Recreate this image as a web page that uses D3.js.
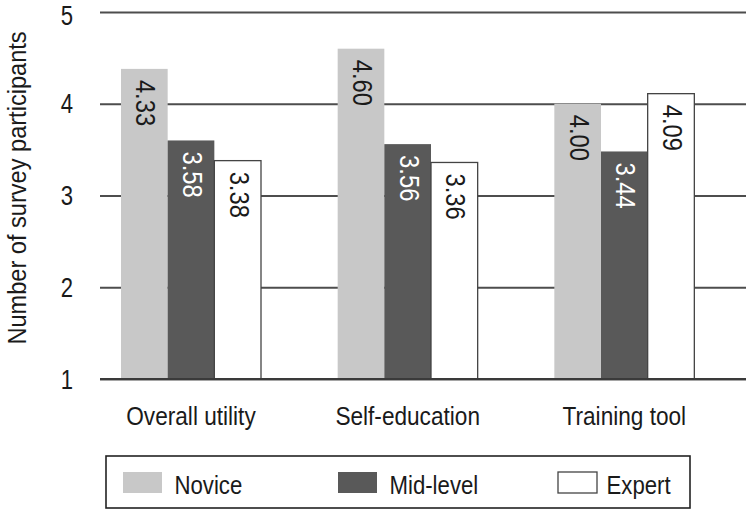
<!DOCTYPE html>
<html><head><meta charset="utf-8">
<script src="https://cdn.jsdelivr.net/npm/d3@7"></script>
<style>
body{margin:0;background:#fff}
svg text{font-family:"Liberation Sans Narrow","Arial Narrow","Liberation Sans",Arial,sans-serif;fill:#1a1a1a}
</style>
</head><body><svg id="c" width="750" height="515"></svg>
<script>
const categories = ["Overall utility", "Self-education", "Training tool"];
const seriesNames = ["Novice", "Mid-level", "Expert"];
// bar heights as drawn in the picture
const novice = [4.38, 4.60, 4.00];
const midLevel = [3.60, 3.56, 3.48];
const expert = [3.38, 3.36, 4.11];
// printed value labels
const noviceLabels = ["4.33", "4.60", "4.00"];
const midLevelLabels = ["3.58", "3.56", "3.44"];
const expertLabels = ["3.38", "3.36", "4.09"];
const yTicks = [1, 2, 3, 4, 5];
const yTickLabels = ["1", "2", "3", "4", "5"];
const yTitle = "Number of survey participants";

const seriesValues = [novice, midLevel, expert];
const seriesLabels = [noviceLabels, midLevelLabels, expertLabels];
const fills = ["#c8c8c8", "#595959", "#ffffff"];
const labelColors = ["#1a1a1a", "#ffffff", "#1a1a1a"];
const FS = 26, SX = 0.87;

const svg = d3.select("#c");
const y = d3.scaleLinear().domain([1, 5]).range([379, 12]);
const x0 = d3.scaleBand().domain(categories).range([100, 750]);
const x1 = d3.scaleBand().domain(seriesNames).range([21, 161]);

// grid lines via axis
const gAxis = svg.append("g").attr("transform", "translate(100,0)")
  .call(d3.axisLeft(y).tickValues(yTicks).tickFormat("").tickSize(-646));
gAxis.select(".domain").remove();
gAxis.selectAll(".tick line").attr("stroke", "#4d4d4d").attr("stroke-width", 1.9);
gAxis.selectAll(".tick text").remove();

// tick labels (condensed)
svg.append("g").selectAll("text").data(yTicks).join("text")
  .attr("transform", (d, i) => `translate(73,${y(d) + (d === 5 ? 13 : 9.5)}) scale(0.82,1)`)
  .attr("text-anchor", "end")
  .attr("font-size", 27)
  .text((d, i) => yTickLabels[i]);

// bars
const rows = [];
categories.forEach((c, ci) => seriesNames.forEach((s, si) => {
  rows.push({c, s, si, v: seriesValues[si][ci], lab: seriesLabels[si][ci]});
}));

svg.append("g").selectAll("rect").data(rows).join("rect")
  .attr("x", d => x0(d.c) + x1(d.s))
  .attr("y", d => y(d.v))
  .attr("width", x1.bandwidth())
  .attr("height", d => y(1) - y(d.v))
  .attr("fill", d => fills[d.si])
  .attr("stroke", d => d.si === 2 ? "#444" : "none")
  .attr("stroke-width", 1.3);

// baseline on top
svg.append("line").attr("x1", 100).attr("x2", 746).attr("y1", y(1)).attr("y2", y(1))
  .attr("stroke", "#3a3a3a").attr("stroke-width", 1.9);

// value labels
svg.append("g").selectAll("text").data(rows).join("text")
  .attr("transform", d => `translate(${x0(d.c) + x1(d.s) + x1.bandwidth() / 2 - 8},${y(d.v) + 11}) rotate(90) scale(0.85,1)`)
  .attr("font-size", 28)
  .style("fill", d => labelColors[d.si])
  .text(d => d.lab);

// category labels
svg.append("g").selectAll("text").data(categories).join("text")
  .attr("transform", c => `translate(${x0(c) + 91},425) scale(${SX},1)`)
  .attr("text-anchor", "middle")
  .attr("font-size", FS)
  .text(c => c);

// y title
svg.append("text")
  .attr("transform", `translate(26,188) rotate(-90) scale(0.89,1)`)
  .attr("text-anchor", "middle")
  .attr("font-size", 26.5)
  .text(yTitle);

// legend
svg.append("rect").attr("x", 106).attr("y", 456).attr("width", 584).attr("height", 52)
  .attr("fill", "none").attr("stroke", "#222").attr("stroke-width", 1.6);
const legX = [123, 338, 558];
const lg = svg.append("g").selectAll("g").data(seriesNames).join("g")
  .attr("transform", (d, i) => `translate(${legX[i]},0)`);
lg.append("rect").attr("x", 0).attr("y", 472).attr("width", 39).attr("height", 21)
  .attr("fill", (d, i) => fills[i])
  .attr("stroke", (d, i) => i === 2 ? "#444" : "none").attr("stroke-width", 1.3);
lg.append("text")
  .attr("transform", (d, i) => `translate(${i === 2 ? 48.5 : 51.5},494) scale(${SX},1)`)
  .attr("font-size", 25.5).text(d => d);
</script>
</body></html>
